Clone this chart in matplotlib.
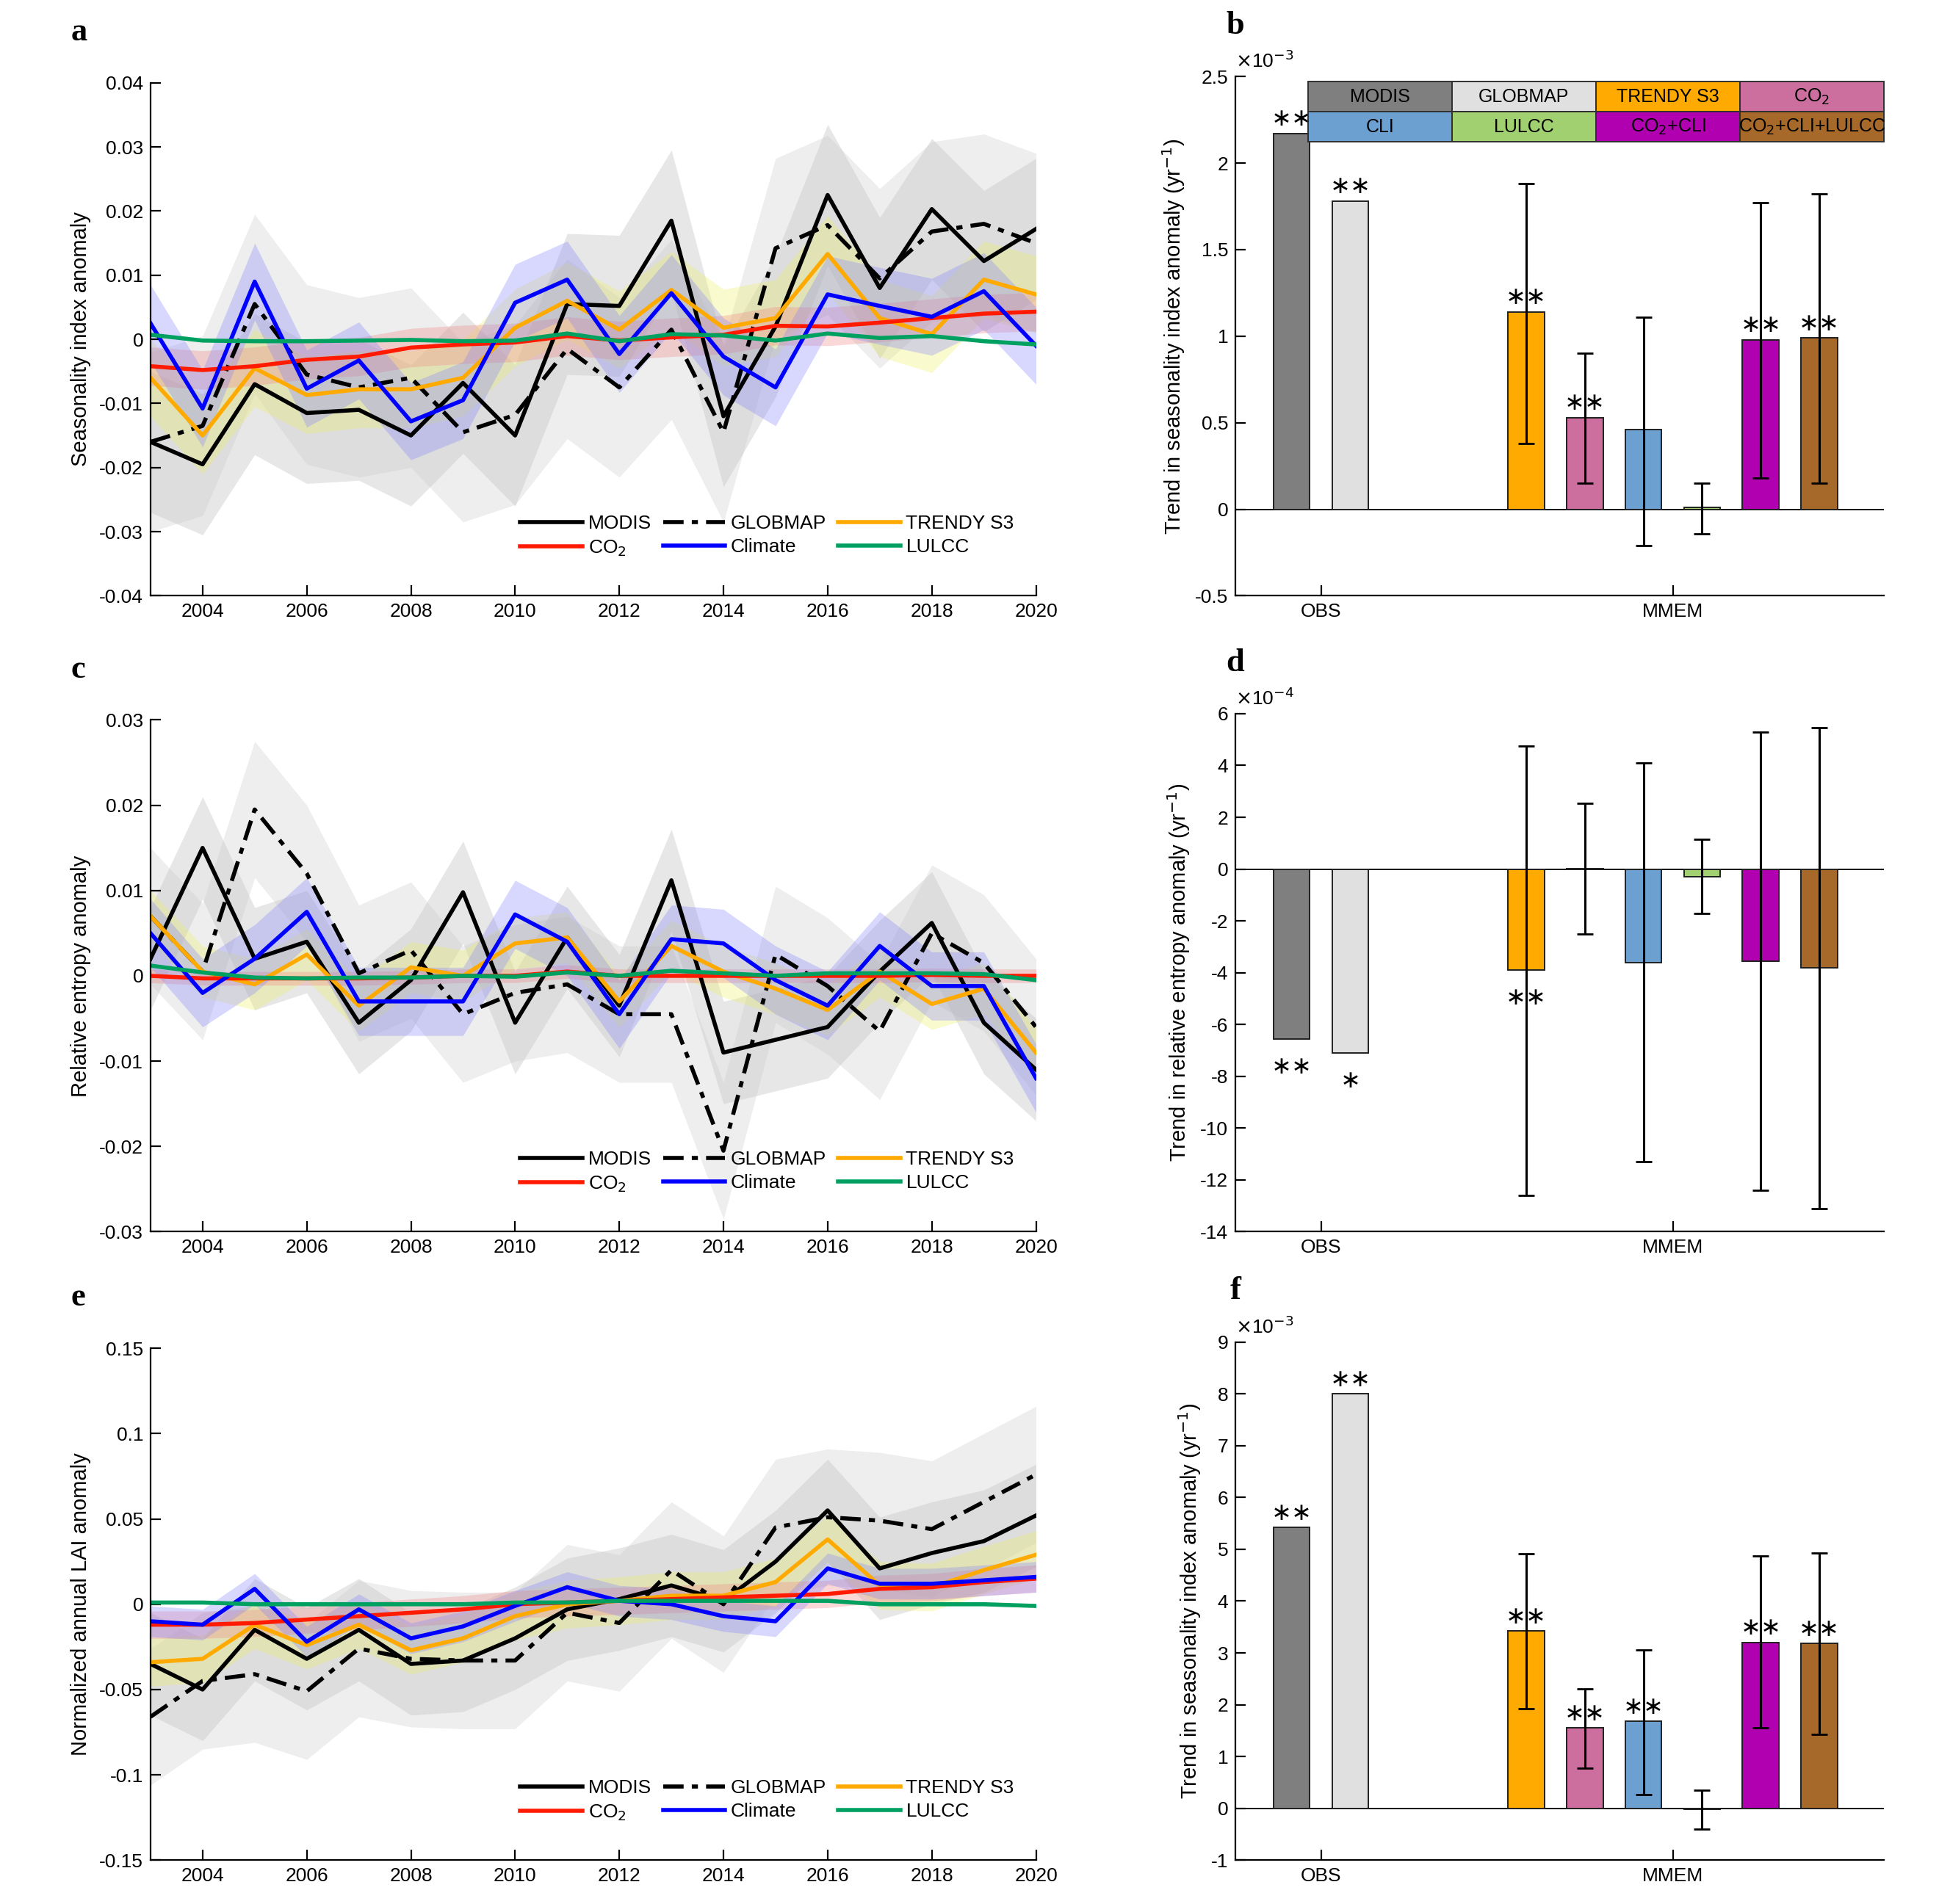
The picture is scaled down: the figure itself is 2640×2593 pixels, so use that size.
import numpy as np
import matplotlib.pyplot as plt
from matplotlib.patches import Rectangle

plt.rcParams["font.family"] = ["Liberation Sans", "DejaVu Sans"]
plt.rcParams["font.size"] = 9.5

YEARS = list(range(2003, 2021))

# ---- panel a: seasonality index anomaly
A_MODIS = [-0.016, -0.0195, -0.007, -0.0115, -0.011, -0.015, -0.0068, -0.015, 0.0055, 0.0052, 0.0185, -0.012, 0.002, 0.0225, 0.008, 0.0203, 0.0122, 0.0172]
A_GLOBMAP = [-0.016, -0.0135, 0.0055, -0.0055, -0.0075, -0.006, -0.0145, -0.0118, -0.0015, -0.0075, 0.0015, -0.0145, 0.0142, 0.0178, 0.0095, 0.0168, 0.018, 0.015]
A_TRENDY = [-0.006, -0.015, -0.0045, -0.0087, -0.0078, -0.0078, -0.006, 0.0018, 0.006, 0.0015, 0.0077, 0.0018, 0.0033, 0.0133, 0.0033, 0.0008, 0.0093, 0.007]
A_CO2 = [-0.0042, -0.0048, -0.0042, -0.0032, -0.0027, -0.0013, -0.0008, -0.0005, 0.0005, -0.0002, 0.0003, 0.0007, 0.0021, 0.002, 0.0026, 0.0033, 0.004, 0.0043]
A_CLIM = [0.0025, -0.0108, 0.009, -0.0077, -0.0033, -0.0128, -0.0095, 0.0057, 0.0093, -0.0023, 0.0072, -0.0027, -0.0075, 0.007, 0.0052, 0.0035, 0.0075, -0.001]
A_LULCC = [0.0007, -0.0002, -0.0003, -0.0003, -0.0002, -0.0001, -0.0003, -0.0002, 0.0009, -0.0003, 0.0008, 0.0006, -0.0002, 0.0009, 0.0002, 0.0005, -0.0003, -0.0008]
A_SPREAD = [0.011, 0.014, 0.006, 0.003, 0.006, 0.0002]  # MODIS, GLOBMAP, TRENDY, CO2, Climate, LULCC

# ---- panel c: relative entropy anomaly
C_MODIS = [0.002, 0.015, 0.002, 0.004, -0.0055, -0.0005, 0.0098, -0.0055, 0.0045, -0.0035, 0.0112, -0.009, -0.0075, -0.006, 0.0005, 0.0062, -0.0055, -0.011]
C_GLOBMAP = [0.007, 0.0005, 0.0195, 0.012, 0.0003, 0.003, -0.0045, -0.002, -0.001, -0.0045, -0.0045, -0.0205, 0.0025, -0.0012, -0.0065, 0.005, 0.0015, -0.006]
C_TRENDY = [0.007, 0.0005, -0.001, 0.0025, -0.0035, 0.001, 0.0, 0.0038, 0.0045, -0.003, 0.0035, 0.0005, -0.0015, -0.004, 0.0005, -0.0033, -0.0015, -0.009]
C_CO2 = [0.0, -0.0003, -0.0003, -0.0003, -0.0003, -0.0002, 0.0, 0.0, 0.0005, 0.0, 0.0, 0.0, 0.0, 0.0, 0.0, 0.0001, 0.0, 0.0]
C_CLIM = [0.005, -0.002, 0.002, 0.0075, -0.003, -0.003, -0.003, 0.0072, 0.004, -0.0045, 0.0043, 0.0038, -0.0005, -0.0035, 0.0035, -0.0012, -0.0012, -0.012]
C_LULCC = [0.0012, 0.0004, -0.0002, -0.0003, -0.0002, -0.0002, 0.0, -0.0001, 0.0004, 0.0, 0.0006, 0.0003, 0.0, 0.0003, 0.0003, 0.0003, 0.0002, -0.0005]
C_SPREAD = [0.006, 0.008, 0.003, 0.0008, 0.004, 0.0002]

# ---- panel e: normalized annual LAI anomaly
E_MODIS = [-0.035, -0.05, -0.015, -0.032, -0.015, -0.035, -0.033, -0.02, -0.003, 0.003, 0.011, 0.002, 0.025, 0.055, 0.021, 0.03, 0.037, 0.052]
E_GLOBMAP = [-0.066, -0.045, -0.041, -0.051, -0.026, -0.032, -0.033, -0.033, -0.005, -0.011, 0.02, 0.0, 0.045, 0.051, 0.049, 0.044, 0.06, 0.076]
E_TRENDY = [-0.034, -0.032, -0.012, -0.024, -0.012, -0.027, -0.02, -0.007, 0.0, 0.002, 0.005, 0.005, 0.013, 0.038, 0.011, 0.01, 0.02, 0.029]
E_CO2 = [-0.012, -0.012, -0.011, -0.009, -0.007, -0.005, -0.003, 0.0, 0.001, 0.002, 0.003, 0.004, 0.005, 0.006, 0.009, 0.01, 0.013, 0.015]
E_CLIM = [-0.01, -0.012, 0.009, -0.022, -0.003, -0.02, -0.013, -0.001, 0.01, 0.002, 0.0, -0.007, -0.01, 0.021, 0.012, 0.012, 0.014, 0.016]
E_LULCC = [0.001, 0.001, 0.0, 0.0, 0.0, 0.0, 0.0, 0.001, 0.001, 0.002, 0.002, 0.002, 0.002, 0.002, 0.0, 0.0, 0.0, -0.001]
E_SPREAD = [0.03, 0.04, 0.014, 0.008, 0.009, 0.001]

# ---- bar panels
BAR_NAMES = ["MODIS", "GLOBMAP", "TRENDY S3", "CO2", "CLI", "LULCC", "CO2+CLI", "CO2+CLI+LULCC"]
BAR_X = [1, 2, 5, 6, 7, 8, 9, 10]
BAR_COLORS = ["#7f7f7f", "#e0e0e0", "#ffaa00", "#cc6e9e", "#6ca0d0", "#a0d070", "#b000b0", "#a6692a"]

B_VAL = [2.17, 1.78, 1.14, 0.53, 0.46, 0.01, 0.98, 0.99]
B_LO = [None, None, 0.38, 0.15, -0.21, -0.14, 0.18, 0.15]
B_HI = [None, None, 1.88, 0.90, 1.11, 0.15, 1.77, 1.82]
B_STAR = ["∗∗", "∗∗", "∗∗", "∗∗", "", "", "∗∗", "∗∗"]

D_VAL = [-6.55, -7.1, -3.9, 0.02, -3.6, -0.3, -3.55, -3.8]
D_LO = [None, None, -12.6, -2.5, -11.3, -1.7, -12.4, -13.1]
D_HI = [None, None, 4.75, 2.55, 4.1, 1.15, 5.3, 5.45]
D_STAR = ["∗∗", "∗", "∗∗", "", "", "", "", ""]

F_VAL = [5.42, 8.0, 3.42, 1.55, 1.68, -0.02, 3.2, 3.18]
F_LO = [None, None, 1.92, 0.78, 0.27, -0.4, 1.55, 1.43]
F_HI = [None, None, 4.92, 2.3, 3.05, 0.35, 4.87, 4.93]
F_STAR = ["∗∗", "∗∗", "∗∗", "∗∗", "∗∗", "", "∗∗", "∗∗"]

W, H = 1546.0, 1518.0
fig = plt.figure(figsize=(13.2, 12.965), dpi=200)


def box(x0, y0, x1, y1):
    return [x0 / W, 1 - y1 / H, (x1 - x0) / W, (y1 - y0) / H]


LINE_STYLE = [("MODIS", "black", "-", "#b0b0b0"),
              ("GLOBMAP", "black", (0, (5, 2, 1.5, 2)), "#c8c8c8"),
              ("TRENDY S3", "#ffaa00", "-", "#f0f060"),
              ("CO$_2$", "#ff1a00", "-", "#f08080"),
              ("Climate", "#0000ff", "-", "#8080ff"),
              ("LULCC", "#00a060", "-", "#60c080")]


def line_panel(rect, series, spreads, ylim, yticks, ylabel, letter):
    ax = fig.add_axes(rect)
    yr = np.array(YEARS)
    for (lab, col, ls, band), s, sp in zip(LINE_STYLE, series, spreads):
        s = np.array(s)
        ax.fill_between(yr, s - sp, s + sp, color=band, alpha=0.3, lw=0)
    handles = []
    for (lab, col, ls, band), s in zip(LINE_STYLE, series):
        h, = ax.plot(yr, s, color=col, ls=ls, lw=2.0, label=lab)
        handles.append(h)
    order = [0, 3, 1, 4, 2, 5]
    ax.legend([handles[i] for i in order], [LINE_STYLE[i][0] for i in order],
              ncol=3, loc="lower right", frameon=False, fontsize=9.5,
              handlelength=3.2, columnspacing=0.6, handletextpad=0.3, labelspacing=0.3,
              bbox_to_anchor=(0.995, 0.04))
    ax.set_xlim(2003, 2020)
    ax.set_xticks(range(2004, 2021, 2))
    ax.set_ylim(*ylim)
    ax.set_yticks(yticks)
    ax.set_yticklabels([("%g" % t) for t in yticks])
    ax.set_ylabel(ylabel, fontsize=10.5)
    ax.spines["top"].set_visible(False)
    ax.spines["right"].set_visible(False)
    ax.tick_params(direction="in", length=5)
    ax.text(-0.09, 1.07, letter, transform=ax.transAxes, fontsize=16, fontweight="bold",
            family="Liberation Serif", va="bottom")
    return ax


def bar_panel(rect, vals, lo, hi, stars, ylim, yticks, exp, ylabel, letter, stars_below=False):
    ax = fig.add_axes(rect)
    ax.bar(BAR_X, vals, width=0.62, color=BAR_COLORS, edgecolor="#202020", lw=0.7, zorder=2)
    ax.axhline(0, color="black", lw=0.7, zorder=1)
    span = ylim[1] - ylim[0]
    for x, v, l, h, st in zip(BAR_X, vals, lo, hi, stars):
        if l is not None:
            ax.errorbar(x, v, yerr=[[v - l], [h - v]], color="black", lw=1.1, capsize=4, zorder=3)
        if st:
            if stars_below:
                ax.text(x, v - 0.03 * span, st, ha="center", va="top", fontsize=12,
                        family=["DejaVu Sans"])
            else:
                ax.text(x, v + 0.005 * span, st, ha="center", va="bottom", fontsize=12,
                        family=["DejaVu Sans"])
    ax.set_xlim(0.04, 11.1)
    ax.set_xticks([1.5, 7.5])
    ax.set_xticklabels(["OBS", "MMEM"])
    ax.set_ylim(*ylim)
    ax.set_yticks(yticks)
    ax.set_yticklabels([("%g" % t) for t in yticks])
    ax.set_ylabel(ylabel, fontsize=10.5)
    ax.spines["top"].set_visible(False)
    ax.spines["right"].set_visible(False)
    ax.tick_params(direction="in", length=5)
    ax.text(0.0, 1.01, r"$\times$10$^{%d}$" % exp, transform=ax.transAxes, fontsize=9.5, va="bottom")
    ax.text(0.0, 1.07, letter, transform=ax.transAxes, fontsize=16, fontweight="bold",
            family="Liberation Serif", va="bottom", ha="center")
    return ax


line_panel(box(120, 66, 826, 475), [A_MODIS, A_GLOBMAP, A_TRENDY, A_CO2, A_CLIM, A_LULCC], A_SPREAD,
           (-0.04, 0.04), np.round(np.arange(-0.04, 0.041, 0.01), 2), "Seasonality index anomaly", "a")
line_panel(box(120, 574, 826, 982), [C_MODIS, C_GLOBMAP, C_TRENDY, C_CO2, C_CLIM, C_LULCC], C_SPREAD,
           (-0.03, 0.03), np.round(np.arange(-0.03, 0.031, 0.01), 2), "Relative entropy anomaly", "c")
line_panel(box(120, 1075, 826, 1483), [E_MODIS, E_GLOBMAP, E_TRENDY, E_CO2, E_CLIM, E_LULCC], E_SPREAD,
           (-0.15, 0.15), np.round(np.arange(-0.15, 0.151, 0.05), 2), "Normalized annual LAI anomaly", "e")

axb = bar_panel(box(985, 61, 1502, 475), B_VAL, B_LO, B_HI, B_STAR, (-0.5, 2.5),
                np.arange(-0.5, 2.51, 0.5), -3, "Trend in seasonality index anomaly (yr$^{-1}$)", "b")
bar_panel(box(985, 569, 1502, 982), D_VAL, D_LO, D_HI, D_STAR, (-14, 6),
          np.arange(-14, 6.1, 2), -4, "Trend in relative entropy anomaly (yr$^{-1}$)", "d", stars_below=True)
bar_panel(box(985, 1070, 1502, 1483), F_VAL, F_LO, F_HI, F_STAR, (-1, 9),
          np.arange(-1, 9.1, 1), -3, "Trend in seasonality index anomaly (yr$^{-1}$)", "f")

# colour key table in panel b
KEY_ROWS = [["MODIS", "GLOBMAP", "TRENDY S3", "CO$_2$"],
            ["CLI", "LULCC", "CO$_2$+CLI", "CO$_2$+CLI+LULCC"]]
KEY_COLS = [[BAR_COLORS[0], BAR_COLORS[1], BAR_COLORS[2], BAR_COLORS[3]],
            [BAR_COLORS[4], BAR_COLORS[5], BAR_COLORS[6], BAR_COLORS[7]]]
x0, x1 = 0.112, 1.0
tops = [0.99, 0.932]
hgt = 0.058
cw = (x1 - x0) / 4
for r in range(2):
    for c in range(4):
        axb.add_patch(Rectangle((x0 + c * cw, tops[r] - hgt), cw, hgt, transform=axb.transAxes,
                                facecolor=KEY_COLS[r][c], edgecolor="#303030", lw=0.7,
                                clip_on=False, zorder=5))
        axb.text(x0 + (c + 0.5) * cw, tops[r] - hgt / 2, KEY_ROWS[r][c], transform=axb.transAxes,
                 ha="center", va="center", fontsize=9, zorder=6)

fig.savefig("out.png", dpi=200)
